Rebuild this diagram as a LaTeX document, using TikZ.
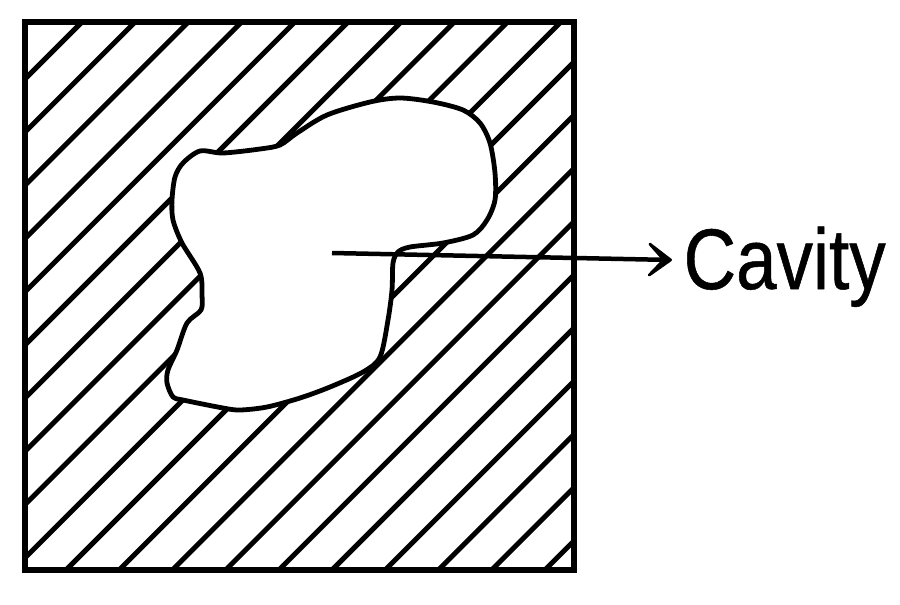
\documentclass[tikz,border=0pt]{standalone}
\usepackage{fontspec}
\newfontfamily\cavfont[FakeStretch=0.846,FakeBold=0.6]{Liberation Sans}
\usetikzlibrary{arrows.meta}
\tikzset{
  frame/.style={line width=6pt},
  hatchline/.style={line width=5pt},
  cavityline/.style={line width=4.8pt, fill=white, line join=round},
  pointer/.style={line width=4.5pt, -{Stealth[length=34pt,width=50pt,inset=23pt,round]}},
  label/.style={inner sep=0pt, anchor=base west, font=\cavfont\fontsize{86}{90}\selectfont}
}
\begin{document}
\begin{tikzpicture}[x=1pt,y=-1pt]
\useasboundingbox (0,0) rectangle (900,605);
% hatching
\begin{scope}
  \clip (24.5,22) rectangle (574,569.5);
  \foreach \k in {0,...,19}{
    \pgfmathsetmacro{\c}{104+53.2*\k}
    \draw[hatchline] (\c-700,700) -- (\c+100,-100);
  }
\end{scope}
% frame
\draw[frame] (24.5,22) rectangle (574,569.5);
% cavity
\draw[cavityline] plot[smooth cycle, tension=0.5] coordinates {
 (200,151) (223,153) (260,149) (280,145) (297,133) (327,115) (370,102) (400,98)
 (433,102) (463,110) (480,123) (490,143) (495,173) (495,200) (487,220) (473,235)
 (443,243) (410,247) (398,252) (393,263) (392,290) (388,320) (380,357) (363,372)
 (330,387) (300,398) (267,407) (240,410) (223,408) (183,400) (173,397) (167,383)
 (168,370) (177,350) (187,323) (201,310) (202,295) (200,273) (182,243) (173,220)
 (172,200) (175,177) (183,163)};
% label and pointer
\node[label] (lbl) at (683.4,289) {Cavity};
\coordinate (astart) at (332,253);
\coordinate (atip) at (672,260);
\draw[pointer] (astart) -- (atip);
\end{tikzpicture}
\end{document}
